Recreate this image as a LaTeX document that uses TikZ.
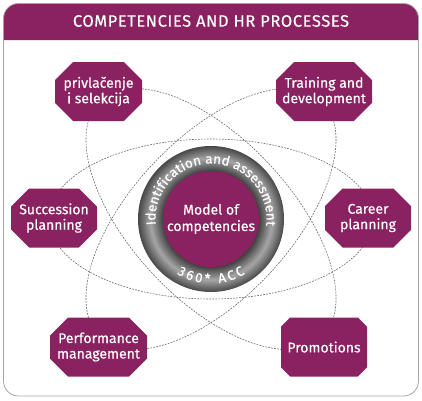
\documentclass[tikz,border=0pt]{standalone}
\usepackage{fontspec}
\setmainfont{Fira Sans}
\newfontfamily\dinfont[FakeBold=0.4]{Fira Sans}
\usetikzlibrary{shapes.misc,decorations.text}
\definecolor{hrpurple}{RGB}{138,33,97}
\definecolor{framegray}{RGB}{165,165,165}
\definecolor{dashgray}{RGB}{105,105,105}
\pgfdeclareradialshading{ringshade}{\pgfpoint{0bp}{0bp}}{color(0bp)=(black!75); color(16.4bp)=(black!75); color(20.8bp)=(black!35); color(25bp)=(black!72); color(50bp)=(black!72)}
\tikzset{
  orbit/.style={draw=dashgray, line width=0.6pt, dash pattern=on 1.8pt off 1.2pt},
  process/.style={chamfered rectangle, chamfered rectangle xsep=17pt, fill=hrpurple,
    text=white, align=center, minimum height=59pt, inner xsep=-10pt, inner ysep=0pt,
    font=\dinfont\fontsize{14}{15.5}\selectfont},
}
\begin{document}
\begin{tikzpicture}[x=1pt,y=1pt]
        \useasboundingbox (0,0) rectangle (422,400);
        % frame and title band
        \fill[hrpurple] (3.5,360) {[rounded corners=15pt] -- (3.5,396.5) -- (418.5,396.5)} -- (418.5,360) -- cycle;
        \draw[framegray, line width=0.8pt, rounded corners=15pt] (3.5,4) rectangle (418.5,396.5);
        \node[text=white, font=\dinfont\fontsize{16.5}{18}\selectfont\addfontfeature{LetterSpace=3.5}] (title) at (211,379) {COMPETENCIES AND HR PROCESSES};
        % orbits
        \coordinate (c) at (211,181);
        \draw[orbit] (c) ellipse [x radius=162pt, y radius=80pt];
        \draw[orbit, rotate around={47:(c)}] (c) ellipse [x radius=162pt, y radius=80pt];
        \draw[orbit, rotate around={-47:(c)}] (c) ellipse [x radius=162pt, y radius=80pt];
        % ring and model
        \shade[shading=ringshade] (c) circle [radius=73pt];
        \node[circle, fill=hrpurple, minimum size=96pt, inner sep=0pt, text=white, align=center,
          font=\dinfont\fontsize{14}{16.5}\selectfont] (model) at (c) {Model of\\competencies};
        \path[decorate, decoration={text along path, text align=fit to path, text color=white,
          text={|\dinfont\fontsize{13.5}{15}\selectfont|Identification and assessment}}]
          (c) ++(186:55.5pt) arc [start angle=186, end angle=-7, radius=55.5pt];
        \path[decorate, decoration={text along path, text align=fit to path, text color=white,
          text={|\dinfont\fontsize{13.5}{15}\selectfont|360* ACC}}]
          (c) ++(238:64.5pt) arc [start angle=238, end angle=302, radius=64.5pt];
        % processes
        \node[process, minimum width=87pt] (pr) at (98.5,308.5) {privlačenje\\i selekcija};
        \node[process, minimum width=96pt] (td) at (324,308.5) {Training and\\development};
        \node[process, minimum width=86pt] (sp) at (54,182) {Succession\\planning};
        \node[process, minimum width=86pt] (cp) at (368,182) {Career\\planning};
        \node[process, minimum width=97pt] (pm) at (98.5,53) {Performance\\management};
        \node[process, minimum width=86pt] (pro) at (324,53) {Promotions};
\end{tikzpicture}
\end{document}
